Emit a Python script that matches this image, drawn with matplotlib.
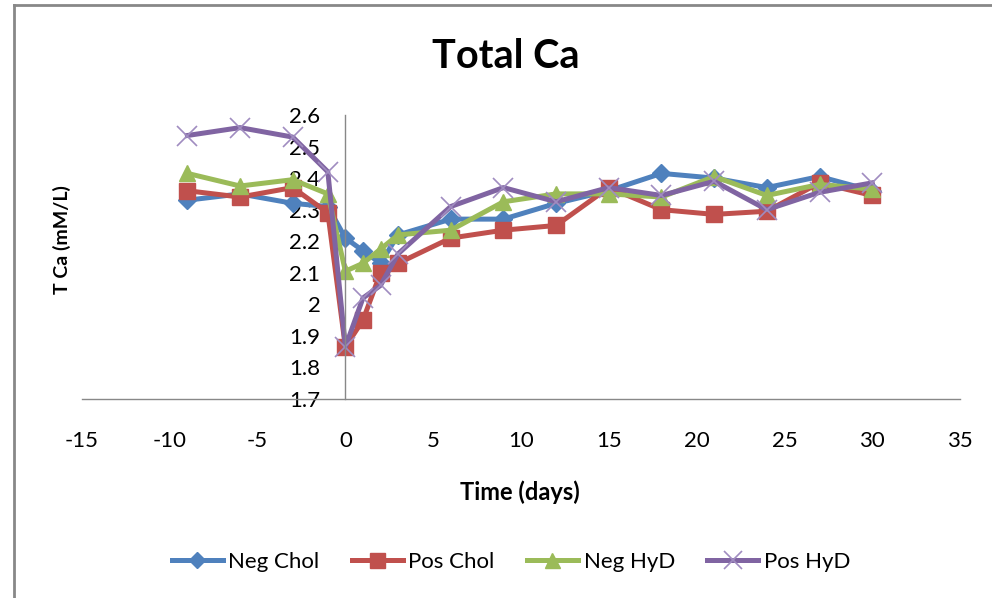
import matplotlib
matplotlib.use('Agg')
import matplotlib.pyplot as plt
from matplotlib.lines import Line2D

plt.rcParams['font.family'] = ['Lato', 'DejaVu Sans']

# ---- data ----
days = [-9, -6, -3, -1, 0, 1, 2, 3, 6, 9, 12, 15, 18, 21, 24, 27, 30]
neg_chol = [2.33, 2.35, 2.32, 2.31, 2.21, 2.17, 2.13, 2.22, 2.27, 2.27, 2.32, 2.36, 2.415, 2.40, 2.37, 2.405, 2.36]
pos_chol = [2.36, 2.34, 2.37, 2.29, 1.865, 1.95, 2.10, 2.13, 2.21, 2.235, 2.25, 2.37, 2.30, 2.285, 2.295, 2.385, 2.345]
neg_hyd = [2.415, 2.375, 2.395, 2.35, 2.105, 2.13, 2.175, 2.22, 2.235, 2.325, 2.35, 2.35, 2.34, 2.405, 2.345, 2.38, 2.365]
pos_hyd = [2.535, 2.56, 2.53, 2.42, 1.865, 2.02, 2.06, 2.16, 2.31, 2.37, 2.325, 2.37, 2.345, 2.39, 2.30, 2.355, 2.385]

series_names = ['Neg Chol', 'Pos Chol', 'Neg HyD', 'Pos HyD']
x_ticks = [-15, -10, -5, 0, 5, 10, 15, 20, 25, 30, 35]
y_ticks = [1.7, 1.8, 1.9, 2.0, 2.1, 2.2, 2.3, 2.4, 2.5, 2.6]
y_tick_labels = ['1.7', '1.8', '1.9', '2', '2.1', '2.2', '2.3', '2.4', '2.5', '2.6']
title = 'Total Ca'
xlabel = 'Time (days)'
ylabel = 'T Ca (mM/L)'

# ---- figure ----
fig = plt.figure(figsize=(9.92, 5.98), dpi=100)
ax = fig.add_axes([82 / 992, 1 - 399 / 598, 878 / 992, 284 / 598])

styles = [
    dict(color='#4F81BD', marker='D', ms=9, mec='#4F81BD', mfc='#4F81BD'),
    dict(color='#C0504D', marker='s', ms=12, mec='#C0504D', mfc='#C0504D'),
    dict(color='#9BBB59', marker='^', ms=12, mec='#9BBB59', mfc='#9BBB59'),
    dict(color='#8064A2', marker='x', ms=14, mec='#A08CC0', mew=1.2),
]
for vals, name, st in zip([neg_chol, pos_chol, neg_hyd, pos_hyd], series_names, styles):
    ax.plot(days, vals, lw=3.6, label=name, solid_joinstyle='round', clip_on=False, **st)

ax.set_xlim(-15, 35)
ax.set_ylim(1.7, 2.6)
ax.set_xticks(x_ticks)
ax.set_xticklabels([str(t) for t in x_ticks])
ax.set_yticks(y_ticks)
ax.set_yticklabels(y_tick_labels)

for s in ['top', 'right']:
    ax.spines[s].set_visible(False)
ax.spines['left'].set_position(('data', 0))
ax.spines['left'].set_color('#888888')
ax.spines['bottom'].set_color('#888888')
ax.spines['left'].set_linewidth(1.0)
ax.spines['bottom'].set_linewidth(1.0)
ax.tick_params(axis='x', length=0, pad=23, labelsize=16)
ax.tick_params(axis='y', length=0, pad=18, labelsize=16)

fig.text(506 / 992, 1 - 56 / 598, title, ha='center', va='center', fontsize=28.5, fontweight='bold')
fig.text(520 / 992, 1 - 492 / 598, xlabel, ha='center', va='center', fontsize=17, fontweight='bold')
fig.text(62 / 992, 1 - 240 / 598, ylabel, ha='center', va='center', fontsize=14, fontweight='bold', rotation=90)

fig.legend(loc='center', bbox_to_anchor=(511 / 992, 1 - 562 / 598), ncol=4, frameon=False,
           fontsize=16, handlelength=2.3, columnspacing=1.45, handletextpad=0.25, markerscale=0.9)

# chart border (left and top)
fig.add_artist(Line2D([14 / 992, 14 / 992], [0, 1 - 5 / 598], transform=fig.transFigure, color='#888888', lw=2))
fig.add_artist(Line2D([14 / 992, 1], [1 - 5 / 598, 1 - 5 / 598], transform=fig.transFigure, color='#888888', lw=2))

fig.savefig('out.png', dpi=100)
